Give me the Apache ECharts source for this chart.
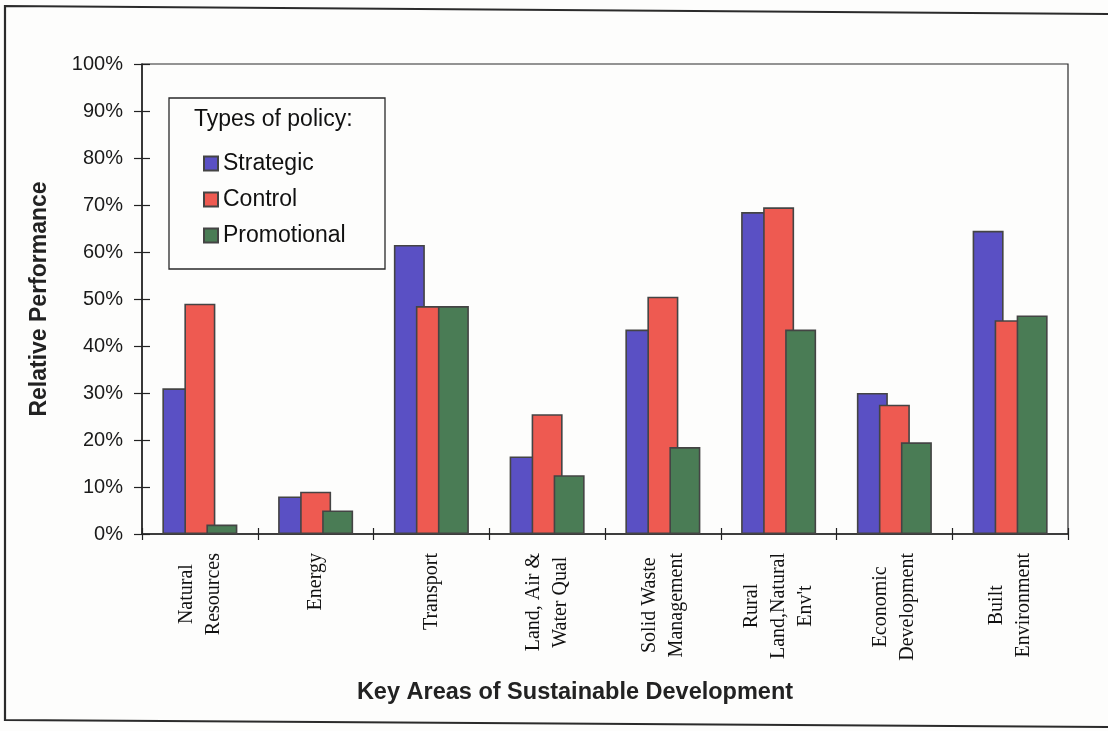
<!DOCTYPE html>
<html>
<head>
<meta charset="utf-8">
<title>Relative Performance by Key Area</title>
<script src="https://cdn.jsdelivr.net/npm/echarts@6/dist/echarts.min.js"></script>
<style>
  html, body { margin: 0; padding: 0; background: #fdfdfc; }
  #chart { width: 1108px; height: 731px; }
</style>
</head>
<body>
<div id="chart"></div>
<script>
// Key areas of sustainable development (line breaks as printed on the axis)
const categories = [
  'Natural\nResources',
  'Energy',
  'Transport',
  'Land, Air &\nWater Qual',
  'Solid Waste\nManagement',
  'Rural\nLand,Natural\nEnv\'t',
  'Economic\nDevelopment',
  'Built\nEnvironment'
];

// Relative performance (%) per type of policy
const strategic   = [31, 8, 61.5, 16.5, 43.5, 68.5, 30, 64.5];
const control     = [49, 9, 48.5, 25.5, 50.5, 69.5, 27.5, 45.5];
const promotional = [2, 5, 48.5, 12.5, 18.5, 43.5, 19.5, 46.5];

const seriesNames = ['Strategic', 'Control', 'Promotional'];
const yTicks = [0, 10, 20, 30, 40, 50, 60, 70, 80, 90, 100];

const colors = ['#5a50c4', '#ee5a51', '#4a7c55'];
const sans = '"Liberation Sans", Arial, sans-serif';
const serif = '"Liberation Serif", "Times New Roman", serif';

const chart = echarts.init(document.getElementById('chart'));

function bar(name, data, color) {
  return {
    name: name,
    type: 'bar',
    data: data,
    barWidth: 31,
    barGap: '-29%',
    itemStyle: { color: color, borderColor: '#444', borderWidth: 1.6 }
  };
}

// Multi-line category labels: each line centred within its block
function catLabel(value) {
  return value.split('\n').map(function (s) { return '{c|' + s + '}'; }).join('\n');
}

const option = {
  backgroundColor: '#fdfdfc',
  animation: false,
  grid: {
    left: 142, right: 40, top: 64, bottom: 197,
    show: true, borderColor: '#2a2a2a', borderWidth: 1.2
  },
  legend: {
    data: seriesNames,
    orient: 'vertical',
    left: 198,
    top: 147,
    itemWidth: 14,
    itemHeight: 14,
    itemGap: 13,
    icon: 'rect',
    textStyle: { fontFamily: sans, fontSize: 23, color: '#111', lineHeight: 23 }
  },
  xAxis: [
    {
      type: 'category',
      data: categories,
      position: 'bottom',
      axisLine: { lineStyle: { color: '#222', width: 1.5 } },
      axisTick: { show: true, length: 6, lineStyle: { color: '#222', width: 1.2 } },
      axisLabel: {
        interval: 0,
        rotate: 90,
        margin: 19,
        fontFamily: serif,
        fontSize: 20,
        color: '#111',
        formatter: catLabel,
        rich: {
          c: { align: 'center', fontFamily: serif, fontSize: 20, lineHeight: 27, color: '#111' }
        }
      }
    },
    {
      // inward half of the crossing category ticks
      type: 'category',
      data: categories,
      position: 'bottom',
      axisLine: { show: false },
      axisTick: { show: true, inside: true, length: 6, lineStyle: { color: '#222', width: 1.2 } },
      axisLabel: { show: false }
    }
  ],
  yAxis: [
    {
      type: 'value',
      min: yTicks[0],
      max: yTicks[yTicks.length - 1],
      interval: 10,
      position: 'left',
      name: 'Relative Performance',
      nameLocation: 'middle',
      nameGap: 91,
      nameTextStyle: { fontFamily: sans, fontSize: 23, fontWeight: 'bold', color: '#222' },
      splitLine: { show: false },
      axisLine: { show: true, lineStyle: { color: '#222', width: 1.5 } },
      axisTick: { show: true, length: 8, lineStyle: { color: '#222', width: 1.2 } },
      axisLabel: {
        margin: 19,
        fontFamily: sans,
        fontSize: 20,
        color: '#1a1a1a',
        formatter: function (v) { return v + '%'; }
      }
    },
    {
      // inward half of the crossing value ticks
      type: 'value',
      min: yTicks[0],
      max: yTicks[yTicks.length - 1],
      interval: 10,
      position: 'left',
      splitLine: { show: false },
      axisLine: { show: false },
      axisTick: { show: true, inside: true, length: 8, lineStyle: { color: '#222', width: 1.2 } },
      axisLabel: { show: false }
    }
  ],
  series: [
    bar(seriesNames[0], strategic, colors[0]),
    bar(seriesNames[1], control, colors[1]),
    bar(seriesNames[2], promotional, colors[2])
  ],
  graphic: [
    // outer page frame
    {
      type: 'polyline',
      silent: true,
      z: 0,
      shape: { points: [[1108, 14], [5, 6], [5, 720], [1108, 727]] },
      style: { stroke: '#2b2b2b', lineWidth: 2.2, fill: null }
    },
    // legend box
    {
      type: 'rect',
      silent: true,
      z: 1,
      shape: { x: 169, y: 98, width: 216, height: 171 },
      style: { fill: '#fdfdfc', stroke: '#2a2a2a', lineWidth: 1.3 }
    },
    {
      type: 'text',
      silent: true,
      z: 5,
      left: 194,
      top: 108,
      style: { text: 'Types of policy:', font: '23px ' + sans, fill: '#111' }
    },
    // category axis title
    {
      type: 'text',
      silent: true,
      z: 5,
      x: 575,
      y: 693,
      style: {
        text: 'Key Areas of Sustainable Development',
        font: 'bold 23.5px ' + sans,
        fill: '#222',
        textAlign: 'center',
        textVerticalAlign: 'middle'
      }
    }
  ]
};

chart.setOption(option);
</script>
</body>
</html>
